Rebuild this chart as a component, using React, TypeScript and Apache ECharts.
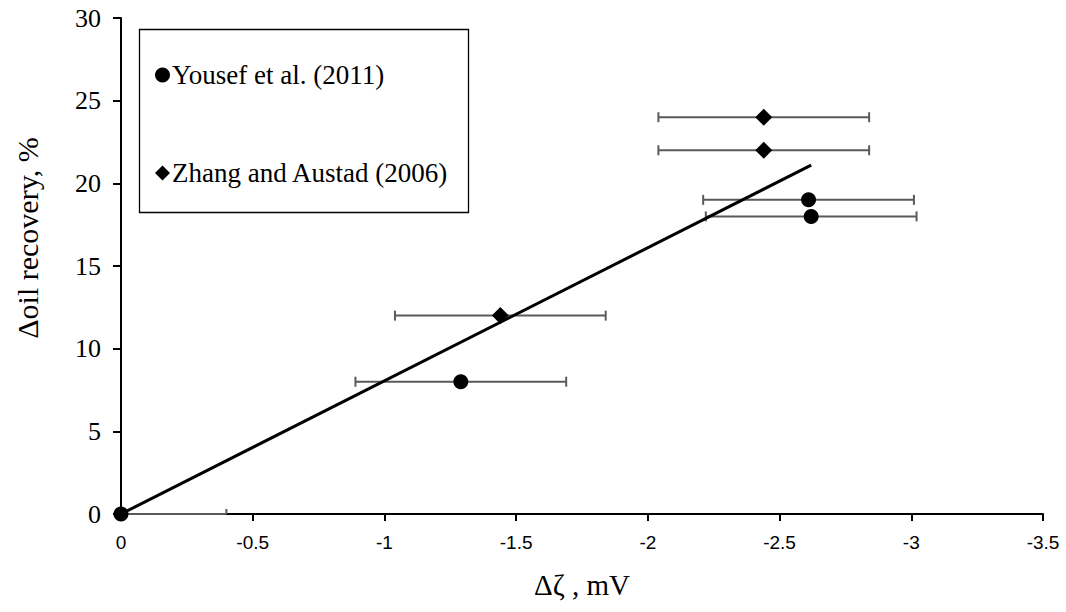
import React, { useEffect, useRef } from "react";
import * as echarts from "echarts";

// Change in zeta potential (mV) vs. change in oil recovery (%)
const yousefX = [0, -1.29, -2.61, -2.62];
const yousefY = [0, 8, 19, 18];
const zhangX = [-1.44, -2.44, -2.44];
const zhangY = [12, 22, 24];
// Horizontal error (± mV) applied to every point
const xError = 0.4;
// Linear trend through the origin, drawn over the data range
const trendX = [0, -2.62];
const trendY = [0, 21.1];

const xTicks = { min: -3.5, max: 0, interval: 0.5 };
const yTicks = { min: 0, max: 30, interval: 5 };

const legendNames = ["Yousef et al. (2011)", "Zhang and Austad (2006)"];
const xTitle = "Δζ , mV";
const yTitle = "Δoil recovery, %";

const SERIF = "'Liberation Serif', 'Times New Roman', serif";
const SANS = "'Liberation Sans', Arial, sans-serif";

export default function App() {
  const ref = useRef<HTMLDivElement>(null);

  useEffect(() => {
    if (!ref.current) return;
    const chart = echarts.init(ref.current, undefined, { renderer: "svg" });

    const pairs = (xs: number[], ys: number[]) => xs.map((x, i) => [x, ys[i]]);
    const yousef = pairs(yousefX, yousefY);
    const zhang = pairs(zhangX, zhangY);
    const errData = [...yousef, ...zhang].map(([x, y]) => [x, y, x - xError, x + xError]);

    const barStyle = { stroke: "#5a5a5a", lineWidth: 2 };

    chart.setOption({
      animation: false,
      backgroundColor: "#ffffff",
      grid: { left: 121, right: 23, top: 18, bottom: 98 },
      xAxis: {
        type: "value",
        inverse: true,
        min: xTicks.min,
        max: xTicks.max,
        interval: xTicks.interval,
        splitLine: { show: false },
        axisLine: { onZero: false, lineStyle: { color: "#000", width: 2 } },
        axisTick: { show: true, length: 7, lineStyle: { color: "#000", width: 2 } },
        axisLabel: { color: "#000", fontFamily: SANS, fontSize: 19, margin: 19 },
        name: xTitle,
        nameLocation: "middle",
        nameGap: 56,
        nameTextStyle: { color: "#000", fontFamily: SERIF, fontSize: 29 },
      },
      yAxis: {
        type: "value",
        min: yTicks.min,
        max: yTicks.max,
        interval: yTicks.interval,
        splitLine: { show: false },
        axisLine: { show: true, lineStyle: { color: "#000", width: 2 } },
        axisTick: { show: true, length: 8, lineStyle: { color: "#000", width: 2 } },
        axisLabel: { color: "#000", fontFamily: SERIF, fontSize: 26, margin: 20 },
      },
      legend: {
        data: legendNames,
        orient: "vertical",
        left: 155,
        top: 61,
        padding: 0,
        itemGap: 70,
        itemWidth: 15,
        itemHeight: 15,
        textStyle: { color: "#000", fontFamily: SERIF, fontSize: 27, lineHeight: 28, padding: [0, 0, 0, -3] },
        selectedMode: false,
      },
      graphic: [
        {
          type: "rect",
          left: 137,
          top: 27,
          shape: { width: 329, height: 183 },
          style: { fill: "none", stroke: "#000", lineWidth: 1.3 },
          z: 1,
        },
        {
          type: "text",
          x: 27,
          y: 238,
          rotation: Math.PI / 2,
          style: {
            text: yTitle,
            fill: "#000",
            font: `30px ${SERIF}`,
            textAlign: "center",
            textVerticalAlign: "middle",
          },
        },
      ],
      series: [
        {
          type: "custom",
          name: "error",
          clip: false,
          z: 3,
          data: errData,
          renderItem: (params: any, api: any) => {
            const cs = params.coordSys;
            const left = cs.x;
            const right = cs.x + cs.width;
            const top = cs.y;
            const bottom = cs.y + cs.height;
            const y = api.value(1);
            const a = api.coord([api.value(2), y]);
            const b = api.coord([api.value(3), y]);
            const cap = 5;
            const x1 = Math.max(left, Math.min(right, Math.min(a[0], b[0])));
            const x2 = Math.max(left, Math.min(right, Math.max(a[0], b[0])));
            const children: any[] = [
              { type: "line", shape: { x1, y1: a[1], x2, y2: b[1] }, style: barStyle },
            ];
            [a, b].forEach((p) => {
              if (p[0] >= left && p[0] <= right) {
                children.push({
                  type: "line",
                  shape: {
                    x1: p[0],
                    y1: Math.max(top, p[1] - cap),
                    x2: p[0],
                    y2: Math.min(bottom, p[1] + cap),
                  },
                  style: barStyle,
                });
              }
            });
            return { type: "group", children };
          },
        },
        {
          type: "line",
          name: "trend",
          data: pairs(trendX, trendY),
          showSymbol: false,
          symbol: "none",
          lineStyle: { color: "#000", width: 3 },
          z: 4,
        },
        {
          type: "scatter",
          name: legendNames[0],
          data: yousef,
          symbol: "circle",
          symbolSize: 15,
          itemStyle: { color: "#000", opacity: 1 },
          z: 5,
          clip: false,
        },
        {
          type: "scatter",
          name: legendNames[1],
          data: zhang,
          symbol: "diamond",
          symbolSize: [17, 17],
          itemStyle: { color: "#000", opacity: 1 },
          z: 5,
        },
      ],
    });

    return () => chart.dispose();
  }, []);

  return (
    <div
      ref={ref}
      style={{ position: "fixed", left: 0, top: 0, width: 1066, height: 612, background: "#fff" }}
    />
  );
}
